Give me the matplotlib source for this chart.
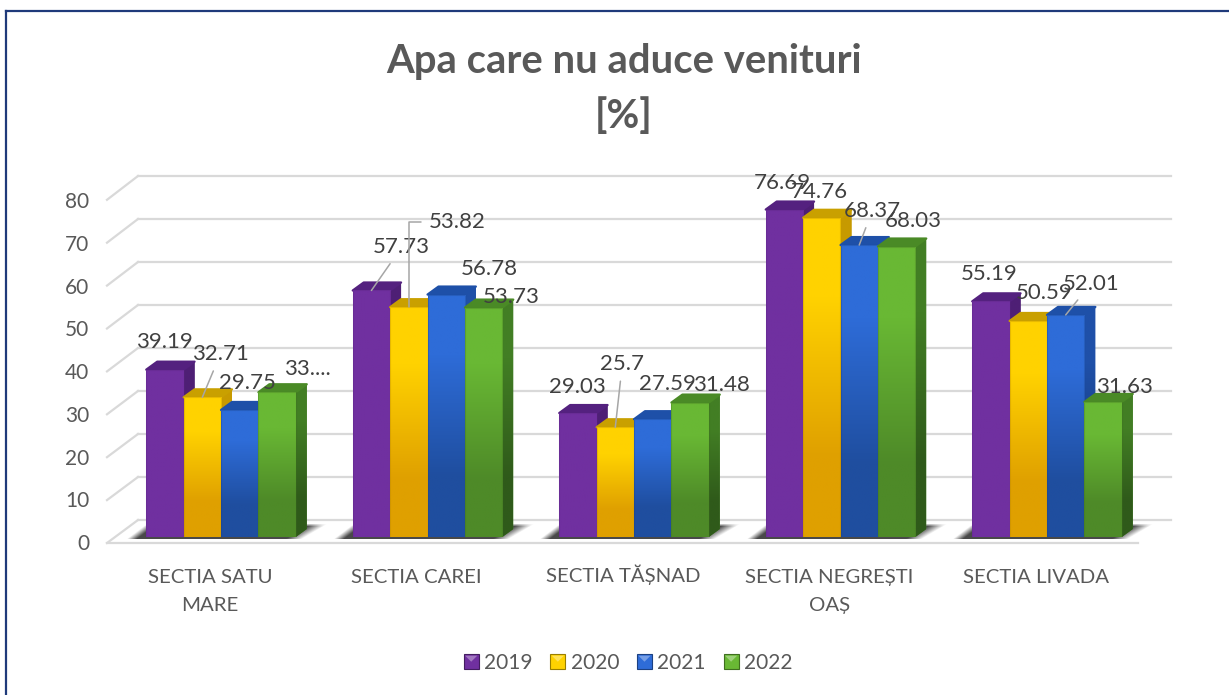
import numpy as np
import matplotlib
matplotlib.use("Agg")
import matplotlib.pyplot as plt
from matplotlib.colors import to_rgb
from matplotlib.legend_handler import HandlerPatch
from matplotlib.lines import Line2D
from matplotlib.patches import Patch, Polygon, Rectangle
from matplotlib.transforms import ScaledTranslation

plt.rcParams['font.family'] = ['Lato', 'DejaVu Sans']

categories = ['SECTIA SATU\nMARE', 'SECTIA CAREI', 'SECTIA TĂȘNAD', 'SECTIA NEGREȘTI\nOAȘ', 'SECTIA LIVADA']
years = ['2019', '2020', '2021', '2022']
v2019 = [39.19, 57.73, 29.03, 76.69, 55.19]
v2020 = [32.71, 53.82, 25.7, 74.76, 50.59]
v2021 = [29.75, 56.78, 27.59, 68.37, 52.01]
v2022 = [33.9, 53.73, 31.48, 68.03, 31.63]
series = [v2019, v2020, v2021, v2022]
labels = [['39.19', '57.73', '29.03', '76.69', '55.19'],
          ['32.71', '53.82', '25.7', '74.76', '50.59'],
          ['29.75', '56.78', '27.59', '68.37', '52.01'],
          ['33....', '53.73', '31.48', '68.03', '31.63']]

# (top colour, bottom colour, side top, side bottom, top face)
colors = [('#7030A0', '#7030A0', '#4E1F75', '#4E1F75', '#54217F'),
          ('#FFD200', '#DFA000', '#C79A00', '#A87A00', '#C9A000'),
          ('#2E6CD8', '#1F4E9F', '#1F50A8', '#17397A', '#1E50A8'),
          ('#69B834', '#4E8A28', '#427E24', '#2F5A1A', '#4A8A26')]

# label offsets from bar top, pixels, one row per series
label_off = [[(-1, 28), (30, 43), (-1, 26), (-2, 27), (-2, 27)],
             [(18, 43), (48, 85), (7, 63), (-2, 26), (16, 28)],
             [(8, 27), (43, 26), (15, 35), (13, 34), (25, 31)],
             [(30, 23), (28, 11), (31, 18), (17, 26), (21, 15)]]
leaders = {(1, 0): 'line', (0, 1): 'line', (1, 1): 'elbow', (1, 2): 'line', (2, 3): 'line', (2, 4): 'line'}

W, H = 1229, 695
X0, XS = 221, 206.5   # pixel of first group, pixels per category
Y0, YS = 537, 4.27    # pixel of value 0, pixels per unit
BAR_W = 37.4 / XS
DX, DY = 11 / XS, 8 / YS


def px(x, y):
    return (x - X0) / XS, (Y0 - y) / YS


fig = plt.figure(figsize=(W / 100, H / 100), dpi=100, facecolor='white')
# frame only has top and left edges in the picture
fig.add_artist(Line2D([6.5 / W, 1], [1 - 10.5 / H, 1 - 10.5 / H], color='#1F3A7A', lw=1.6))
fig.add_artist(Line2D([6.5 / W, 6.5 / W], [1 - 10.5 / H, 0], color='#1F3A7A', lw=1.6))
ax = fig.add_axes([(X0 - XS / 2) / W, 1 - Y0 / H, XS * 5 / W, YS * 80 / H])

# back wall and left wall
for v in range(0, 90, 10):
    yb = 520 - v * 4.3
    yf = 543 - v * 4.29
    ax.plot(*zip(px(138, yb), px(1171, yb)), color='#D9D9D9', lw=1.6, clip_on=False, zorder=1)
    ax.plot(*zip(px(107, yf), px(138, yb)), color='#D9D9D9', lw=1.6, clip_on=False, zorder=1)
ax.plot(*zip(px(107, 543), px(1138, 543)), color='#D9D9D9', lw=1.6, clip_on=False, zorder=1)

# soft shadow on the floor under each group, leaning to the right going back
rows, cols = 16, 220
shadow = np.zeros((rows, cols, 4))
shadow[..., :3] = 0.25
xx = np.linspace(-105, 112, cols)
for r in range(rows):
    up = (rows - 1 - r) / (rows - 1)       # 0 at the base, 1 at the far edge
    left = np.clip((xx + 94 - 20 * up) / 10, 0, 1)
    right = np.clip((82 + 26 * up - xx) / 16, 0, 1)
    shadow[r, :, 3] = left * right * np.clip((1 - up) * 5, 0, 1) * 0.95
for g in range(len(categories)):
    ax.imshow(shadow, extent=[g - 105 / XS, g + 112 / XS, -2 / YS, 14 / YS], aspect='auto',
              interpolation='bilinear', zorder=2, clip_on=False)

z = 3
for s, vals in enumerate(series):
    top_c, bot_c, side_t, side_b, roof = colors[s]
    xs = np.arange(len(vals)) + (s - 1.5) * BAR_W
    bars = ax.bar(xs, vals, BAR_W, color=top_c, zorder=z + 2)
    edge = tuple(0.8 * k for k in to_rgb(bot_c))
    for x, v, bar in zip(xs, vals, bars):
        l, r = x - BAR_W / 2, x + BAR_W / 2
        # side, with a two colour ramp
        side = Polygon([(r, 0), (r + DX, DY), (r + DX, v + DY), (r, v)], fc=side_t, ec='none', zorder=z, clip_on=False)
        ax.add_patch(side)
        im = ax.imshow(np.array([[to_rgb(side_t)], [to_rgb(side_b)]]), extent=[r, r + DX, 0, v + DY],
                       aspect='auto', interpolation='bilinear', zorder=z, clip_on=True)
        im.set_clip_path(side)
        ax.add_patch(Polygon([(l, v), (l + DX, v + DY), (r + DX, v + DY), (r, v)], fc=roof, ec=roof, lw=1.6,
                             joinstyle='round', zorder=z + 1, clip_on=False))
        im = ax.imshow(np.array([[to_rgb(top_c)], [to_rgb(bot_c)]]), extent=[l, r, 0, v],
                       aspect='auto', interpolation='bilinear', zorder=z + 3)
        im.set_clip_path(bar)
        # thin bevel round the front
        ax.add_patch(Rectangle((l, 0), BAR_W, v, fc='none', ec=edge, lw=0.8, alpha=0.3, zorder=z + 3.5))
    z += 4

ax.set_xlim(-0.5, 4.5)
ax.set_ylim(0, 80)
for side in ax.spines.values():
    side.set_visible(False)
ax.patch.set_alpha(0)

# data labels
for s, vals in enumerate(series):
    for g, v in enumerate(vals):
        x = g + (s - 1.5) * BAR_W
        off = label_off[s][g]
        arrow = None
        if (s, g) in leaders:
            arrow = dict(arrowstyle='-', color='#A6A6A6', lw=1.1, shrinkA=3, shrinkB=0)
            if leaders[(s, g)] == 'elbow':
                arrow['connectionstyle'] = 'angle,angleA=0,angleB=90,rad=0'
        ax.annotate(labels[s][g], xy=(x, v), xytext=(off[0] * 0.72, off[1] * 0.72), textcoords='offset points',
                    ha='center', va='center', fontsize=16, color='#404040', zorder=100,
                    arrowprops=arrow, annotation_clip=False)

# axis labels sit on the front plane, a little below the bars
ax.set_yticks(range(0, 90, 10))
ax.set_xticks(range(len(categories)))
ax.set_xticklabels(categories)
ax.tick_params(axis='both', length=0, labelsize=15, labelcolor='#595959')
ax.tick_params(axis='x', labelsize=14.7, pad=23)
ax.tick_params(axis='y', pad=20.5)
for t in ax.get_yticklabels():
    t.set_transform(t.get_transform() + ScaledTranslation(0, -5 / 100, fig.dpi_scale_trans))
for i, t in enumerate(ax.get_xticklabels()):
    # the breve on Ă pushes this one down when aligned by its top
    dy = 4 / 100 if i == 2 else 0
    t.set_linespacing(1.8)
    t.set_transform(t.get_transform() + ScaledTranslation(-11 / 100, dy, fig.dpi_scale_trans))

fig.text(624 / W, 1 - 62 / H, 'Apa care nu aduce venituri', ha='center', va='center',
         fontsize=28.8, fontweight='bold', color='#595959')
fig.text(624 / W, 1 - 116 / H, '[%]', ha='center', va='center', fontsize=28.8, fontweight='bold', color='#595959')


class PyramidHandler(HandlerPatch):
    def create_artists(self, legend, orig, xd, yd, width, height, fontsize, trans):
        c = to_rgb(orig.get_facecolor())
        dark = tuple(0.6 * k for k in c)
        light = tuple(k + (1 - k) * 0.35 for k in c)
        box = Rectangle((xd * -1, yd * -1), width, height, fc=c, ec=dark, lw=0.8, transform=trans)
        tri = Polygon([(-xd + 1, -yd + height - 1), (-xd + width - 1, -yd + height - 1),
                       (-xd + width / 2, -yd + height / 2)], fc=light, ec='none', transform=trans)
        return [box, tri]


handles = [Patch(facecolor=colors[i][0], label=years[i]) for i in range(4)]
fig.legend(handles=handles, loc='center', bbox_to_anchor=(628 / W, 1 - 663 / H), ncols=4, frameon=False,
           fontsize=15, labelcolor='#595959', handlelength=0.72, handleheight=0.72, handletextpad=0.25,
           columnspacing=0.86, handler_map={Patch: PyramidHandler()})

fig.savefig('out.png', dpi=100)
